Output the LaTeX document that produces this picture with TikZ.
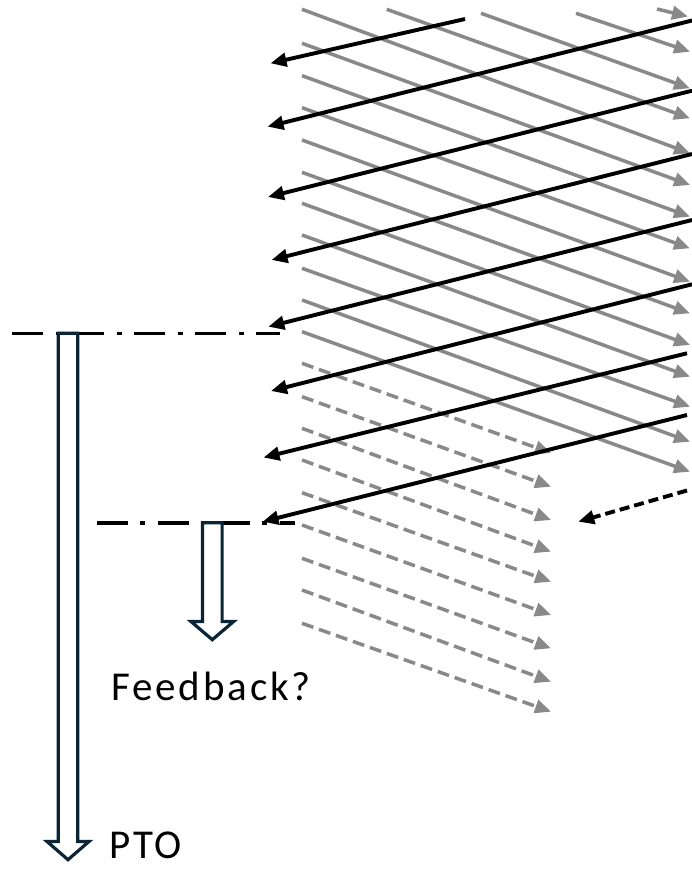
\documentclass[tikz,border=0pt]{standalone}
\usepackage{fontspec}
\setmainfont{Carlito}
\newfontfamily\captionfont[LetterSpace=7]{Carlito}
\usetikzlibrary{arrows.meta}
\definecolor{raygray}{RGB}{137,137,137}
\definecolor{pipenavy}{HTML}{0B2536}

\begin{document}
\begin{tikzpicture}[x=1pt,y=-1pt,
  tipshape/.style={-{Triangle[length=16pt,width=13.5pt]}},
  incident/.style={draw=raygray, line width=3.5pt, tipshape},
  transmitted/.style={incident, dash pattern=on 12pt off 6pt},
  reflected/.style={draw=black, line width=3.9pt, tipshape},
  reflecteddash/.style={reflected, dash pattern=on 10pt off 5pt},
  levelline/.style={draw=black, line width=3.6pt, dash pattern=on 31pt off 12.5pt on 5pt off 12.5pt},
  hollow/.style={draw=pipenavy, line width=3.2pt, fill=white, line join=miter},
  caption/.style={inner sep=0pt, anchor=base west, font=\captionfont\fontsize{41}{44}\selectfont}
]
\useasboundingbox (0,0) rectangle (692,869);

% incoming grey rays entering from the top edge
\foreach \xs/\ys/\ye [count=\i] in {386.7/9.3/118.3, 481/13.3/88.3, 576/13.3/51.7} {
  \coordinate (top\i-a) at (\xs,\ys);
  \coordinate (top\i-b) at (690,\ye);
  \draw[incident] (top\i-a) -- (top\i-b);
}
\coordinate (short-a) at (657,9);
\coordinate (short-b) at (688,16.5);
\draw[incident] (short-a) -- (short-b);

% incoming grey rays entering from the left edge
\foreach \ys/\ye [count=\i] in {9.3/153.3, 43.3/185, 75.7/216.7, 107.7/248.3,
    140/281.7, 172.3/313.3, 203.3/345, 235/376.7, 268.3/406.7, 300/441.7, 331.7/471.7} {
  \coordinate (in\i-a) at (302,\ys);
  \coordinate (in\i-b) at (690,\ye);
  \draw[incident] (in\i-a) -- (in\i-b);
}

% transmitted (dashed) grey rays below the upper level
\foreach \ys/\ye [count=\i] in {363.3/453, 396.7/486.7, 428.3/520, 460/551.7,
    492.7/581.7, 525/615, 558.3/648.3, 590/681.7, 623.3/711.7} {
  \coordinate (tr\i-a) at (302,\ys);
  \coordinate (tr\i-b) at (551,\ye);
  \draw[transmitted] (tr\i-a) -- (tr\i-b);
}

% reflected black rays
\foreach \xs/\ys/\xe/\ye [count=\i] in {465/19/270.5/63.3, 692/20.5/267.5/126.7,
    692/90.7/268/197, 692/154/271.5/260, 692/220/268.3/326.7, 692/284.3/271/391,
    687/353.3/263.5/457.5, 687/415/262.5/521.7} {
  \coordinate (re\i-a) at (\xs,\ys);
  \coordinate (re\i-b) at (\xe,\ye);
  \draw[reflected] (re\i-a) -- (re\i-b);
}
\coordinate (red-a) at (687,490.5);
\coordinate (red-b) at (578.3,521.7);
\draw[reflecteddash] (red-a) -- (red-b);

% dash-dot levels
\coordinate (upper-a) at (12,333.3);
\coordinate (upper-b) at (280,333.3);
\coordinate (lower-a) at (96.7,522.7);
\coordinate (lower-b) at (295,522.7);
\draw[levelline] (upper-a) -- (upper-b);
\draw[levelline] (lower-a) -- (lower-b);

% hollow block arrows
\draw[hollow] (58.2,333.3) -- (58.2,841.5) -- (47,841.5) -- (68,859.7)
  -- (89,841.5) -- (77.8,841.5) -- (77.8,333.3) -- cycle;
\draw[hollow] (202.5,522.7) -- (202.5,621.5) -- (191,621.5) -- (212.3,639.7)
  -- (233.6,621.5) -- (222.1,621.5) -- (222.1,522.7) -- cycle;

% labels
\node[caption] (fb) at (111,700) {Feedback?};
\node[caption] (pto) at (109,858.3) {PTO};
\end{tikzpicture}
\end{document}
